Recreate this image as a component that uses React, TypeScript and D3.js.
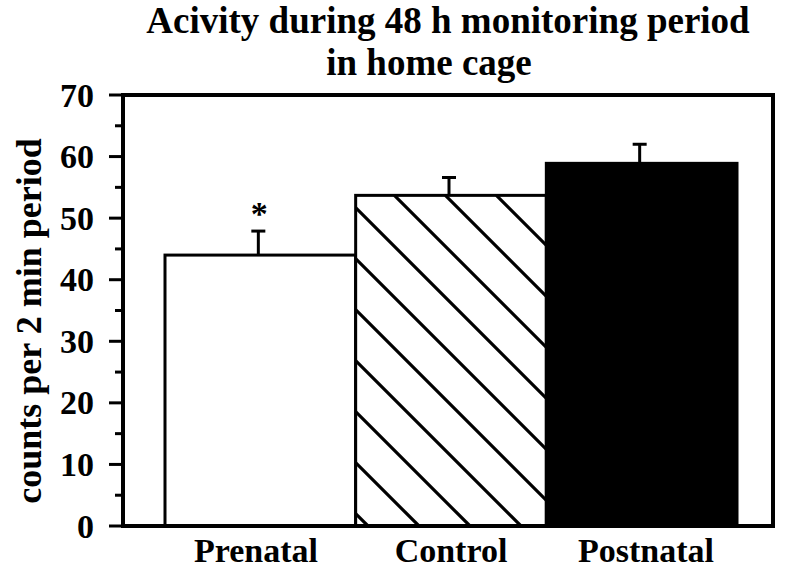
import React from "react";
import * as d3 from "d3";

const categories = ["Prenatal", "Control", "Postnatal"];
const means = [44.0, 53.7, 58.9];
const errors = [3.9, 2.9, 3.1];
const fills = ["white", "hatch", "black"];
const significance = ["*", "", ""];
const yTicks = [0, 10, 20, 30, 40, 50, 60, 70];
const yMinorTicks = [5, 15, 25, 35, 45, 55, 65];
const titleLines = ["Acivity during 48 h monitoring period", "in home cage"];
const yLabel = "counts per 2 min period";

const W = 796;
const H = 574;
const FONT = "'Liberation Serif', 'Times New Roman', serif";

export default function App() {
  const frameL = 123, frameR = 773, frameT = 95, frameB = 526;
  const y = d3.scaleLinear().domain([0, 70]).range([526, 95]);
  const x = d3.scaleBand<string>().domain(categories).range([165, 737]).padding(0);
  const bw = x.bandwidth();

  const hatchStep = 51;
  const hatchPhase = 301;

  const labelCenters = [256, 451, 646];

  return (
    <svg width={W} height={H} viewBox={`0 0 ${W} ${H}`}
      style={{ position: "absolute", left: 0, top: 0, background: "white" }}>
      <defs>
        {categories.map((c, i) => (
          <clipPath id={`clip${i}`} key={c}>
            <rect x={x(c)!} y={y(means[i])} width={bw} height={y(0) - y(means[i])} />
          </clipPath>
        ))}
      </defs>
      <rect x={0} y={0} width={W} height={H} fill="white" />
      {/* title */}
      <text x={448} y={33} textAnchor="middle" fontFamily={FONT} fontWeight="bold" fontSize={37}>{titleLines[0]}</text>
      <text x={429} y={75} textAnchor="middle" fontFamily={FONT} fontWeight="bold" fontSize={37}>{titleLines[1]}</text>

      {/* bars */}
      {categories.map((c, i) => {
        const bx = x(c)!;
        const by = y(means[i]);
        const bh = y(0) - by;
        const lines: JSX.Element[] = [];
        if (fills[i] === "hatch") {
          const kMin = bx - y(0) - hatchStep;
          const kMax = bx + bw - by + hatchStep;
          let k0 = hatchPhase;
          while (k0 > kMin) k0 -= hatchStep;
          for (let k = k0; k <= kMax; k += hatchStep) {
            lines.push(
              <line key={k} x1={by + k} y1={by} x2={y(0) + k} y2={y(0)} stroke="black" strokeWidth={3.2} />
            );
          }
        }
        const ex = bx + bw / 2 - 2;
        const et = y(means[i] + errors[i]);
        return (
          <g key={c}>
            <line x1={ex} x2={ex} y1={by} y2={et} stroke="black" strokeWidth={3} />
            <line x1={ex - 7} x2={ex + 7} y1={et} y2={et} stroke="black" strokeWidth={3} />
            <rect x={bx} y={by} width={bw} height={bh} fill={fills[i] === "black" ? "black" : "white"} />
            <g clipPath={`url(#clip${i})`}>{lines}</g>
            <rect x={bx} y={by} width={bw} height={bh} fill="none" stroke="black" strokeWidth={3} />
            {significance[i] && (
              <text x={ex + 1} y={et - 6.5} textAnchor="middle" fontFamily={FONT} fontWeight="bold" fontSize={34}>{significance[i]}</text>
            )}
            <text x={labelCenters[i]} y={562} textAnchor="middle" fontFamily={FONT} fontWeight="bold" fontSize={34}>{c}</text>
          </g>
        );
      })}

      {/* frame */}
      <rect x={frameL} y={frameT} width={frameR - frameL} height={frameB - frameT} fill="none" stroke="black" strokeWidth={4} />

      {/* y ticks */}
      {yTicks.map((t) => (
        <g key={t}>
          <line x1={109} x2={frameL} y1={y(t)} y2={y(t)} stroke="black" strokeWidth={3} />
          <text x={94} y={y(t) + 11.5} textAnchor="end" fontFamily={FONT} fontWeight="bold" fontSize={34}>{t}</text>
        </g>
      ))}
      {yMinorTicks.map((t) => (
        <line key={t} x1={115} x2={frameL} y1={y(t)} y2={y(t)} stroke="black" strokeWidth={3} />
      ))}

      {/* y label */}
      <text transform={`translate(41, 321) rotate(-90)`} textAnchor="middle" fontFamily={FONT} fontWeight="bold" fontSize={36}>{yLabel}</text>
    </svg>
  );
}
